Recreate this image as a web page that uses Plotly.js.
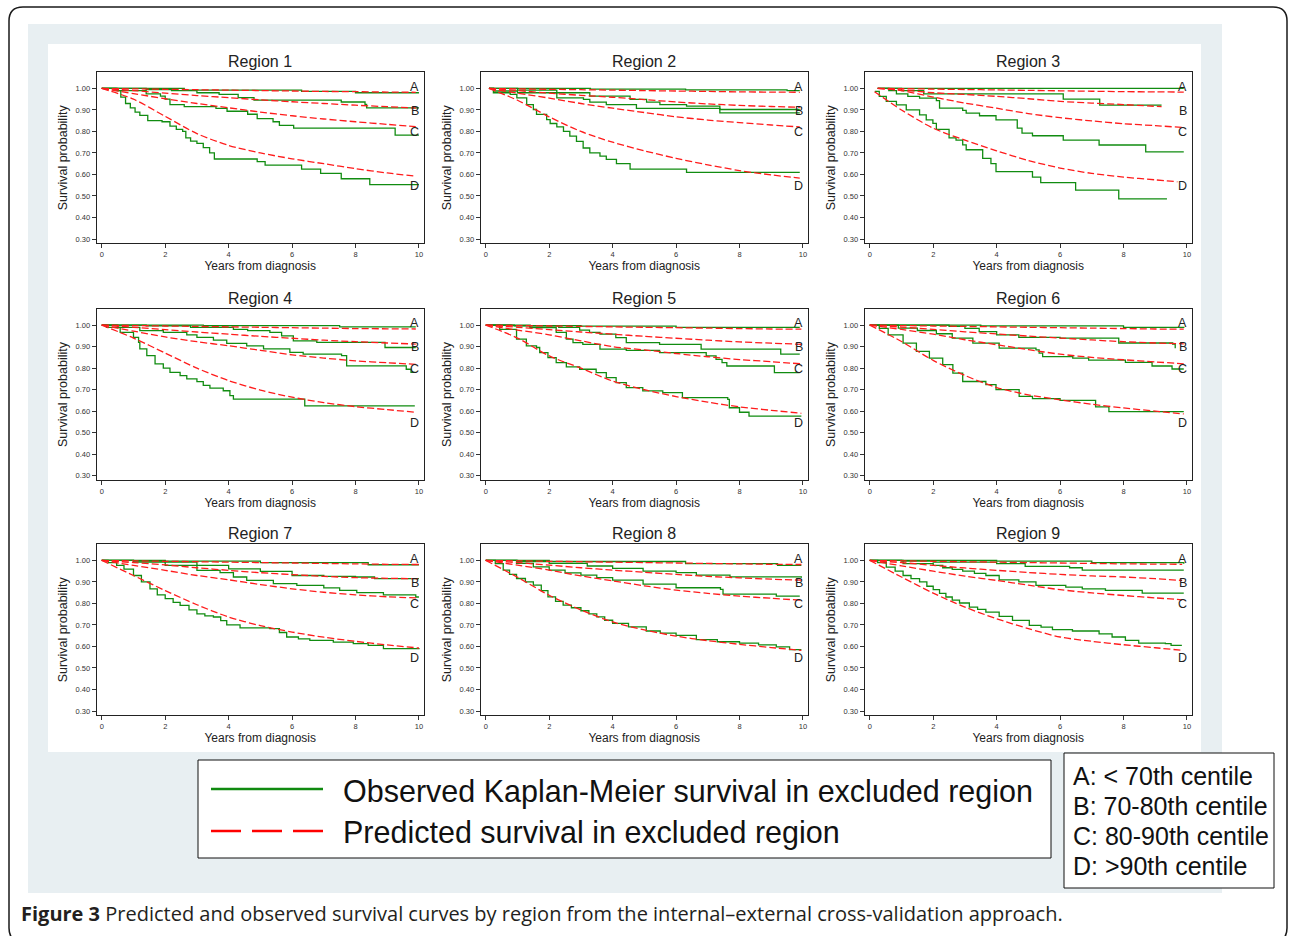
<!DOCTYPE html>
<html><head><meta charset="utf-8">
<script src="https://cdn.plot.ly/plotly-3.0.1.min.js"></script>
<style>html,body{margin:0;padding:0;background:#fff}#chart{width:1292px;height:936px}</style>
</head><body><div id="chart"></div>
<script>
// ---------------- DATA ----------------
const regionNames = ["Region 1","Region 2","Region 3","Region 4","Region 5","Region 6","Region 7","Region 8","Region 9"];
const groupLetters = ["A","B","C","D"];
const yTickVals = [0.3,0.4,0.5,0.6,0.7,0.8,0.9,1.0];
const xTickVals = [0,2,4,6,8,10];
const legendObserved = "Observed Kaplan-Meier survival in excluded region";
const legendPredicted = "Predicted survival in excluded region";
const centileLabels = ["A: < 70th centile","B: 70-80th centile","C: 80-90th centile","D: >90th centile"];
const captionBold = "Figure 3";
const captionText = "Predicted and observed survival curves by region from the internal\u2013external cross-validation approach.";

// Region 1
const predT1 = [0,1,2,3,4,5,6,7,8,9,9.9];
const pred1A = [1,.998,.996,.994,.992,.990,.988,.986,.985,.983,.982];
const pred1B = [1,.990,.978,.967,.957,.947,.938,.930,.922,.915,.909];
const pred1C = [1,.976,.952,.930,.910,.890,.873,.858,.845,.833,.822];
const pred1D = [1,.950,.870,.790,.735,.700,.673,.650,.627,.607,.592];
const obs1A_t = [0,2.6,6.3,8.0,10.0];
const obs1A_s = [1,.992,.986,.980,.980];
const obs1B_t = [0,1.4,2.2,3.0,3.7,4.3,4.8,7.55,8.3,8.35,10.0];
const obs1B_s = [1,.995,.99,.98,.972,.957,.946,.937,.926,.910,.910];
const obs1C_t = [0,0.5,1.4,1.85,2.0,2.15,2.6,3.6,3.95,4.6,4.9,5.4,5.6,6.05,9.25,10.0];
const obs1C_s = [1,.99,.975,.964,.95,.925,.915,.907,.894,.88,.86,.845,.828,.815,.783,.783];
const obs1D_t = [0,0.45,0.6,0.75,0.9,1.05,1.2,1.45,1.9,2.15,2.35,2.55,2.65,2.8,3.0,3.2,3.4,3.55,4.9,5.15,6.3,6.9,7.55,8.45,10.0];
const obs1D_s = [1,.99,.96,.93,.91,.89,.875,.85,.845,.825,.81,.80,.77,.755,.745,.725,.70,.672,.66,.643,.625,.605,.58,.553,.553];

// Region 2
const predT2 = [0.1,1,2,3,4,5,6,7,8,9,9.9];
const pred2A = [1,.998,.996,.994,.992,.99,.988,.986,.984,.983,.982];
const pred2B = [1,.99,.978,.968,.959,.948,.937,.928,.921,.916,.912];
const pred2C = [1,.978,.955,.93,.908,.888,.868,.853,.841,.83,.821];
const pred2D = [1,.945,.868,.80,.75,.71,.675,.645,.618,.598,.583];
const obs2A_t = [0.1,3.3,6.3,9.5,9.9];
const obs2A_s = [1,.997,.993,.99,.99];
const obs2B_t = [0.1,1.0,2.24,3.28,4.55,5.07,5.49,6.33,7.38,9.9];
const obs2B_s = [1,.992,.98,.964,.949,.936,.925,.918,.902,.902];
const obs2C_t = [0.1,0.25,1.0,2.24,3.08,3.28,3.8,4.75,7.38,9.9];
const obs2C_s = [1,.988,.98,.956,.949,.936,.925,.907,.886,.886];
const obs2D_t = [0.1,0.24,0.77,0.98,1.29,1.5,1.6,1.92,2.03,2.24,2.45,2.65,2.86,3.07,3.28,3.6,3.8,4.12,4.55,6.33,9.9];
const obs2D_s = [1,.98,.972,.956,.925,.902,.879,.855,.837,.821,.80,.778,.754,.723,.70,.685,.67,.65,.625,.61,.61];

// Region 3
const predT3 = [0.25,1,2,3,4,5,6,7,8,9,9.9];
const pred3A = [1,.999,.997,.995,.993,.991,.989,.987,.985,.984,.983];
const pred3B_t = [0.25,1,2,3,4,5,6,7,8,9.2];
const pred3B = [1,.993,.98,.972,.963,.952,.94,.932,.925,.915];
const pred3C = [1,.99,.96,.932,.908,.883,.864,.849,.836,.827,.818];
const pred3D_t = [0.15,1,2,3,4,5,6,7,8,9,9.7];
const pred3D = [.985,.90,.815,.76,.71,.665,.63,.605,.588,.575,.566];
const obs3A_t = [0.25,9.9];
const obs3A_s = [1,1];
const obs3B_t = [0.25,1.0,1.7,6.1,7.25,9.2];
const obs3B_s = [1,.99,.975,.95,.922,.922];
const obs3C_t = [0.25,0.6,0.84,1.2,1.57,2.1,2.2,2.93,3.04,3.46,3.98,4.65,4.8,5.13,6.1,7.23,8.7,9.9];
const obs3C_s = [1,.99,.975,.963,.955,.943,.908,.898,.885,.873,.854,.815,.792,.78,.76,.737,.705,.705];
const obs3D_t = [0.16,0.3,0.52,0.84,1.15,1.57,1.78,1.99,2.1,2.5,2.72,2.93,3.04,3.56,3.82,3.98,5.13,5.39,6.49,7.85,9.37];
const obs3D_s = [.986,.963,.94,.924,.90,.877,.854,.838,.81,.77,.76,.738,.715,.675,.65,.613,.588,.562,.527,.487,.487];

// Region 4
const predT4 = [0,1,2,3,4,5,6,7,8,9,9.9];
const pred4A = [1,.998,.996,.994,.992,.99,.988,.986,.984,.983,.982];
const pred4B = [1,.99,.979,.968,.958,.948,.939,.93,.923,.917,.912];
const pred4C = [1,.972,.945,.923,.904,.883,.862,.847,.834,.825,.818];
const pred4D = [1,.94,.87,.80,.742,.698,.665,.64,.621,.607,.595];
const obs4A_t = [0,3.2,7.5,9.9];
const obs4A_s = [1,.998,.992,.992];
const obs4B_t = [0,1.4,2.8,4.15,4.6,5.3,5.67,6.04,6.78,8.93,9.9];
const obs4B_s = [1,.997,.99,.98,.974,.966,.95,.927,.92,.896,.896];
const obs4C_t = [0,0.5,1.2,1.94,2.68,3.0,3.52,3.94,4.57,5.1,5.93,6.35,7.56,7.72,9.6,9.75,9.9];
const obs4C_s = [1,.99,.974,.966,.955,.943,.93,.915,.904,.89,.873,.865,.858,.811,.795,.78,.78];
const obs4D_t = [0,0.15,0.58,1.0,1.16,1.2,1.42,1.68,1.94,2.15,2.47,2.68,3.0,3.2,3.41,3.83,4.04,4.15,6.4,9.87];
const obs4D_s = [1,.99,.966,.943,.92,.89,.858,.82,.80,.78,.765,.75,.737,.72,.707,.695,.672,.656,.625,.625];

// Region 5
const predT5 = [0,1,2,3,4,5,6,7,8,9,9.95];
const pred5A = [1,.998,.996,.994,.992,.99,.988,.986,.984,.982,.981];
const pred5B = [1,.99,.979,.968,.958,.948,.939,.93,.922,.916,.911];
const pred5C = [1,.977,.955,.927,.90,.885,.868,.853,.84,.83,.82];
const pred5D = [1,.94,.857,.80,.74,.70,.668,.642,.62,.604,.59];
const obs5A_t = [0,0.8,3.0,6.0,9.9];
const obs5A_s = [1,.998,.995,.99,.99];
const obs5B_t = [0,1.4,2.3,2.96,3.27,3.6,4.1,4.43,5.48,6.79,9.3,9.9];
const obs5B_s = [1,.997,.99,.977,.966,.958,.942,.919,.911,.888,.865,.865];
const obs5C_t = [0,0.9,1.39,2.22,2.54,2.75,3.06,3.6,4.43,5.48,6.95,7.26,7.45,7.6,9.1,9.9];
const obs5C_s = [1,.997,.989,.966,.935,.919,.911,.888,.883,.872,.857,.841,.826,.81,.779,.779];
const obs5D_t = [0,0.44,0.97,1.28,1.6,1.7,1.96,2.22,2.54,2.96,3.48,3.8,4.11,4.43,4.95,5.58,6.2,7.63,7.68,8.0,8.3,9.95];
const obs5D_s = [1,.98,.935,.904,.896,.872,.849,.826,.806,.795,.779,.756,.733,.709,.694,.686,.663,.655,.616,.595,.577,.577];

// Region 6
const predT6 = [0,1,2,3,4,5,6,7,8,9,9.9];
const pred6A = [1,.998,.996,.994,.992,.99,.988,.986,.984,.982,.981];
const pred6B = [1,.991,.98,.969,.959,.949,.94,.931,.923,.917,.913];
const pred6C = [1,.98,.958,.932,.909,.886,.865,.85,.839,.829,.82];
const pred6D = [1,.924,.836,.766,.71,.676,.653,.632,.615,.60,.587];
const obs6A_t = [0,3.5,8.0,9.9];
const obs6A_s = [1,.997,.99,.987];
const obs6B_t = [0,2.5,3.0,3.45,4.0,4.7,6.0,7.85,9.55,9.63];
const obs6B_s = [1,.994,.985,.97,.955,.943,.94,.917,.912,.893];
const obs6C_t = [0,0.9,1.5,2.1,2.6,3.25,4.08,5.24,5.34,5.45,6.4,6.9,8.06,8.9,9.53,9.9];
const obs6C_s = [1,.986,.975,.96,.94,.916,.893,.885,.87,.854,.847,.837,.827,.81,.796,.796];
const obs6D_t = [0,0.3,0.58,1.05,1.47,1.88,2.3,2.62,2.93,3.66,3.98,4.71,5.13,6.0,7.12,7.54,9.9];
const obs6D_s = [1,.985,.955,.916,.878,.847,.816,.777,.738,.723,.70,.669,.658,.65,.62,.598,.598];

// Region 7
const predT7 = [0,1,2,3,4,5,6,7,8,9,10];
const pred7A = [1,.998,.996,.994,.992,.99,.988,.986,.984,.982,.981];
const pred7B = [1,.99,.979,.966,.954,.943,.934,.926,.92,.917,.915];
const pred7C = [1,.977,.954,.93,.91,.888,.868,.852,.84,.831,.825];
const pred7D = [1,.93,.86,.794,.737,.697,.667,.643,.624,.607,.593];
const obs7A_t = [0,2.0,5.0,8.4,10];
const obs7A_s = [1,.997,.99,.98,.98];
const obs7B_t = [0,1.0,2.0,3.0,4.0,5.0,6.0,7.0,8.0,8.6,10];
const obs7B_s = [1,.997,.992,.977,.961,.949,.93,.926,.923,.915,.915];
const obs7C_t = [0,1.0,2.0,3.0,3.73,4.15,4.57,5.41,6.15,7.0,7.5,8.04,8.88,9.9,10];
const obs7C_s = [1,.992,.977,.954,.943,.923,.907,.892,.884,.872,.861,.85,.84,.83,.83];
const obs7D_t = [0,0.2,0.47,0.7,1.0,1.25,1.52,1.75,2.0,2.25,2.47,2.75,3.0,3.25,3.52,3.75,3.94,4.36,5.3,5.6,5.83,6.2,6.56,7.3,7.93,8.4,8.88,10];
const obs7D_s = [1,.99,.977,.96,.93,.90,.868,.84,.822,.805,.791,.77,.752,.742,.737,.72,.70,.686,.683,.665,.644,.635,.628,.62,.613,.605,.59,.587];

// Region 8
const predT8 = [0,1,2,3,4,5,6,7,8,9,9.95];
const pred8A = [1,.998,.996,.994,.992,.99,.988,.986,.984,.982,.981];
const pred8B = [1,.99,.978,.966,.955,.945,.935,.926,.919,.913,.908];
const pred8C = [1,.978,.955,.928,.905,.882,.862,.847,.834,.824,.815];
const pred8D = [1,.922,.838,.77,.714,.677,.648,.627,.61,.595,.582];
const obs8A_t = [0,2.0,6.3,9.2,9.95];
const obs8A_s = [1,.995,.985,.977,.977];
const obs8B_t = [0,1.0,2.0,3.2,4.0,4.96,6.0,6.64,7.7,9.95];
const obs8B_s = [1,.995,.986,.974,.963,.95,.943,.932,.924,.919];
const obs8C_t = [0,0.97,1.5,2.0,2.5,3.0,3.5,4.0,4.96,6.0,7.4,7.48,8.95,9.16,9.9];
const obs8C_s = [1,.986,.97,.955,.942,.932,.92,.908,.89,.873,.865,.843,.843,.834,.834];
const obs8D_t = [0,0.3,0.55,0.75,0.97,1.25,1.5,1.75,1.96,2.2,2.44,2.7,3.0,3.25,3.5,3.75,4.0,4.5,5.06,5.5,6.0,6.64,7.3,8.0,8.6,9.16,9.58,9.95];
const obs8D_s = [1,.985,.955,.935,.916,.90,.885,.86,.831,.81,.792,.78,.766,.752,.738,.722,.707,.691,.672,.662,.652,.632,.622,.616,.607,.598,.585,.585];

// Region 9
const predT9 = [0,1,2,3,4,5,6,7,8,9,9.85];
const pred9A = [1,.998,.996,.994,.992,.99,.988,.986,.984,.983,.982];
const pred9B = [1,.99,.977,.965,.954,.944,.935,.928,.923,.915,.907];
const pred9C = [1,.975,.95,.927,.907,.885,.864,.849,.837,.826,.817];
const pred9D = [1,.923,.848,.783,.729,.683,.644,.624,.608,.594,.582];
const obs9A_t = [0,4.0,7.0,9.9];
const obs9A_s = [1,.997,.99,.985];
const obs9B_t = [0,1.0,2.0,4.0,4.9,6.3,6.7,9.9];
const obs9B_s = [1,.997,.992,.985,.972,.966,.955,.955];
const obs9C_t = [0,1.05,2.0,2.3,2.6,2.93,3.3,3.66,4.08,4.7,5.24,6.18,6.7,7.43,8.59,9.9];
const obs9C_s = [1,.985,.977,.966,.958,.95,.94,.93,.91,.90,.884,.876,.868,.861,.848,.848];
const obs9D_t = [0,0.25,0.52,0.8,1.05,1.3,1.57,1.8,2.0,2.2,2.4,2.6,2.83,3.14,3.4,3.66,4.08,4.5,5.03,5.4,5.76,6.39,7.23,7.64,8.06,8.48,9.32,9.5,9.84];
const obs9D_s = [1,.99,.969,.95,.93,.915,.90,.88,.864,.847,.83,.815,.802,.783,.772,.76,.74,.721,.698,.69,.678,.672,.659,.644,.628,.616,.613,.605,.605];

// table built from the named arrays
const regionTable = [
  {pred:{A:[predT1,pred1A],B:[predT1,pred1B],C:[predT1,pred1C],D:[predT1,pred1D]},
   obs:{A:[obs1A_t,obs1A_s],B:[obs1B_t,obs1B_s],C:[obs1C_t,obs1C_s],D:[obs1D_t,obs1D_s]}},
  {pred:{A:[predT2,pred2A],B:[predT2,pred2B],C:[predT2,pred2C],D:[predT2,pred2D]},
   obs:{A:[obs2A_t,obs2A_s],B:[obs2B_t,obs2B_s],C:[obs2C_t,obs2C_s],D:[obs2D_t,obs2D_s]}},
  {pred:{A:[predT3,pred3A],B:[pred3B_t,pred3B],C:[predT3,pred3C],D:[pred3D_t,pred3D]},
   obs:{A:[obs3A_t,obs3A_s],B:[obs3B_t,obs3B_s],C:[obs3C_t,obs3C_s],D:[obs3D_t,obs3D_s]}},
  {pred:{A:[predT4,pred4A],B:[predT4,pred4B],C:[predT4,pred4C],D:[predT4,pred4D]},
   obs:{A:[obs4A_t,obs4A_s],B:[obs4B_t,obs4B_s],C:[obs4C_t,obs4C_s],D:[obs4D_t,obs4D_s]}},
  {pred:{A:[predT5,pred5A],B:[predT5,pred5B],C:[predT5,pred5C],D:[predT5,pred5D]},
   obs:{A:[obs5A_t,obs5A_s],B:[obs5B_t,obs5B_s],C:[obs5C_t,obs5C_s],D:[obs5D_t,obs5D_s]}},
  {pred:{A:[predT6,pred6A],B:[predT6,pred6B],C:[predT6,pred6C],D:[predT6,pred6D]},
   obs:{A:[obs6A_t,obs6A_s],B:[obs6B_t,obs6B_s],C:[obs6C_t,obs6C_s],D:[obs6D_t,obs6D_s]}},
  {pred:{A:[predT7,pred7A],B:[predT7,pred7B],C:[predT7,pred7C],D:[predT7,pred7D]},
   obs:{A:[obs7A_t,obs7A_s],B:[obs7B_t,obs7B_s],C:[obs7C_t,obs7C_s],D:[obs7D_t,obs7D_s]}},
  {pred:{A:[predT8,pred8A],B:[predT8,pred8B],C:[predT8,pred8C],D:[predT8,pred8D]},
   obs:{A:[obs8A_t,obs8A_s],B:[obs8B_t,obs8B_s],C:[obs8C_t,obs8C_s],D:[obs8D_t,obs8D_s]}},
  {pred:{A:[predT9,pred9A],B:[predT9,pred9B],C:[predT9,pred9C],D:[predT9,pred9D]},
   obs:{A:[obs9A_t,obs9A_s],B:[obs9B_t,obs9B_s],C:[obs9C_t,obs9C_s],D:[obs9D_t,obs9D_s]}}
];

// ---------------- LAYOUT ----------------
const W = 1292, H = 936;
const px = x => x / W;
const py = y => 1 - y / H;
const colLeft = [96.7, 480.7, 864.7];
const rowTop = [72.3, 309, 544.3];
const plotW = 327, plotH = 171;
const FONT = "Liberation Sans, Arial, Helvetica, sans-serif";
const GREEN = "#118c11";
const RED = "#ff1c1c";
const labelY = {A:1.008, B:0.897, C:0.797, D:0.547};

const traces = [];
const layout = {
  width: W, height: H,
  margin: {l:0, r:0, t:0, b:0},
  paper_bgcolor: "#ffffff",
  plot_bgcolor: "rgba(0,0,0,0)",
  showlegend: false,
  font: {family: FONT, color: "#222"},
  annotations: [],
  shapes: []
};

regionTable.forEach((reg, i) => {
  const n = i + 1;
  const xa = "x" + (n === 1 ? "" : n), ya = "y" + (n === 1 ? "" : n);
  const col = i % 3, row = Math.floor(i / 3);
  const L = colLeft[col], T = rowTop[row];
  groupLetters.forEach(g => {
    traces.push({type:"scatter", mode:"lines", x: reg.obs[g][0], y: reg.obs[g][1],
      xaxis: xa, yaxis: ya, line:{color:GREEN, width:1.3, shape:"hv"}, hoverinfo:"skip",
      name:"Observed " + g});
  });
  groupLetters.forEach(g => {
    traces.push({type:"scatter", mode:"lines", x: reg.pred[g][0], y: reg.pred[g][1],
      xaxis: xa, yaxis: ya, line:{color:RED, width:1.3, dash:"7px,3px", shape:"spline", smoothing:0.8},
      hoverinfo:"skip", name:"Predicted " + g});
  });
  layout["xaxis" + (n === 1 ? "" : n)] = {
    domain: [px(L), px(L + plotW)], anchor: ya, range: [-0.16, 10.15],
    tickvals: xTickVals, ticks: "outside", ticklen: 4, tickwidth: 1, tickcolor: "#333",
    showline: true, mirror: true, linecolor: "#222", linewidth: 1,
    showgrid: false, zeroline: false, fixedrange: true,
    tickfont: {size: 7.5, color: "#333", family: FONT},
    title: {text: "Years from diagnosis", font: {size: 12, color: "#222", family: FONT}, standoff: 0}
  };
  layout["yaxis" + (n === 1 ? "" : n)] = {
    domain: [py(T + plotH), py(T)], anchor: xa, range: [0.28, 1.075],
    tickvals: yTickVals, tickformat: ".2f", ticks: "outside", ticklen: 4, tickwidth: 1, tickcolor: "#333",
    showline: true, mirror: true, linecolor: "#222", linewidth: 1,
    showgrid: false, zeroline: false, fixedrange: true,
    tickfont: {size: 7.5, color: "#333", family: FONT},
    title: {text: "Survival probability", font: {size: 12.5, color: "#222", family: FONT}, standoff: 5}
  };
  layout.annotations.push({text: regionNames[i], xref:"paper", yref:"paper",
    x: px(L + plotW / 2), y: py(T - 10.5), xanchor:"center", yanchor:"middle",
    showarrow:false, font:{size:16, color:"#222", family: FONT}});
  groupLetters.forEach(g => {
    layout.annotations.push({text: g, xref: xa, yref: ya, x: 9.87, y: labelY[g],
      xanchor:"center", yanchor:"middle", showarrow:false,
      font:{size:12.5, color:"#222", family: FONT}});
  });
});

// backgrounds & frames
const r = 14, bx0 = 9, by0 = 7, bx1 = 1287, by1 = 942;
const P = (x, y) => px(x) + "," + py(y);
layout.shapes.push({type:"path", xref:"paper", yref:"paper", layer:"below",
  path: "M" + P(bx0 + r, by0) + " L" + P(bx1 - r, by0) + " Q" + P(bx1, by0) + " " + P(bx1, by0 + r) +
        " L" + P(bx1, by1 - r) + " Q" + P(bx1, by1) + " " + P(bx1 - r, by1) +
        " L" + P(bx0 + r, by1) + " Q" + P(bx0, by1) + " " + P(bx0, by1 - r) +
        " L" + P(bx0, by0 + r) + " Q" + P(bx0, by0) + " " + P(bx0 + r, by0) + " Z",
  line:{color:"#1a1a1a", width:1.5}, fillcolor:"#ffffff"});
layout.shapes.push({type:"rect", xref:"paper", yref:"paper", layer:"below",
  x0: px(28), x1: px(1222), y0: py(893), y1: py(24), line:{width:0}, fillcolor:"#e8eff2"});
layout.shapes.push({type:"rect", xref:"paper", yref:"paper", layer:"below",
  x0: px(48), x1: px(1201), y0: py(752), y1: py(44), line:{width:0}, fillcolor:"#ffffff"});
// legend box
layout.shapes.push({type:"rect", xref:"paper", yref:"paper", layer:"below",
  x0: px(198), x1: px(1051), y0: py(858), y1: py(760), line:{color:"#111", width:1}, fillcolor:"#ffffff"});
layout.shapes.push({type:"line", xref:"paper", yref:"paper",
  x0: px(211), x1: px(323), y0: py(789), y1: py(789), line:{color:"#108a10", width:2.5}});
layout.shapes.push({type:"line", xref:"paper", yref:"paper",
  x0: px(211), x1: px(323), y0: py(831), y1: py(831), line:{color:"#ff0000", width:2.5, dash:"30px,11px"}});
layout.annotations.push({text: legendObserved, xref:"paper", yref:"paper", x: px(341), y: py(791),
  xanchor:"left", yanchor:"middle", showarrow:false, font:{size:30.5, color:"#111", family: FONT}});
layout.annotations.push({text: legendPredicted, xref:"paper", yref:"paper", x: px(341), y: py(832),
  xanchor:"left", yanchor:"middle", showarrow:false, font:{size:30.5, color:"#111", family: FONT}});
// centile box
layout.shapes.push({type:"rect", xref:"paper", yref:"paper", layer:"below",
  x0: px(1064), x1: px(1274), y0: py(888), y1: py(753), line:{color:"#111", width:1}, fillcolor:"#ffffff"});
centileLabels.forEach((t, k) => {
  layout.annotations.push({text: t, xref:"paper", yref:"paper", x: px(1071), y: py(776 + 30 * k),
    xanchor:"left", yanchor:"middle", showarrow:false, font:{size:25, color:"#111", family: FONT}});
});
// caption
layout.annotations.push({text: "<b>" + captionBold + "</b> " + captionText, xref:"paper", yref:"paper",
  x: px(19), y: py(913), xanchor:"left", yanchor:"middle", showarrow:false,
  font:{size:20, color:"#231f20", family:"Open Sans, Noto Sans, sans-serif"}});

Plotly.newPlot("chart", traces, layout, {displayModeBar:false, staticPlot:true});
</script></body></html>
